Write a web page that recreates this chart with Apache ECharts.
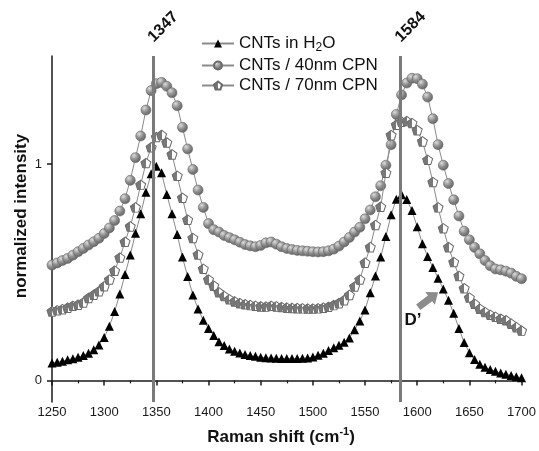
<!DOCTYPE html>
<html><head><meta charset="utf-8">
<script src="https://cdn.jsdelivr.net/npm/echarts@6/dist/echarts.min.js"></script>
<style>html,body{margin:0;padding:0;background:#fff}#c{width:539px;height:451px}</style>
</head><body><div id="c"></div>
<script>
// Raman shift sample positions (cm^-1)
const ramanShift = [
 1250,1255,1260,1265,1270,1275,1280,1285,1290,1295,
 1300,1305,1310,1315,1320,1325,1330,1335,1340,1345,
 1350,1355,1360,1365,1370,1375,1380,1385,1390,1395,
 1400,1405,1410,1415,1420,1425,1430,1435,1440,1445,
 1450,1455,1460,1465,1470,1475,1480,1485,1490,1495,
 1500,1505,1510,1515,1520,1525,1530,1535,1540,1545,
 1550,1555,1560,1565,1570,1575,1580,1585,1590,1595,
 1600,1605,1610,1615,1620,1625,1630,1635,1640,1645,
 1650,1655,1660,1665,1670,1675,1680,1685,1690,1695,
 1700];
const cntsH2O = [
 0.08,0.084,0.089,0.095,0.10,0.107,0.115,0.126,0.142,0.164,
 0.198,0.25,0.318,0.40,0.49,0.58,0.68,0.77,0.87,0.955,
 0.99,0.96,0.86,0.77,0.675,0.57,0.48,0.395,0.33,0.278,
 0.24,0.208,0.179,0.161,0.145,0.135,0.127,0.12,0.115,0.111,
 0.107,0.105,0.103,0.102,0.101,0.101,0.101,0.101,0.102,0.104,
 0.108,0.116,0.126,0.138,0.151,0.162,0.176,0.196,0.234,0.275,
 0.326,0.405,0.483,0.57,0.665,0.766,0.838,0.858,0.836,0.785,
 0.71,0.632,0.573,0.522,0.472,0.423,0.37,0.31,0.24,0.175,
 0.128,0.096,0.075,0.061,0.05,0.042,0.034,0.028,0.022,0.017,
 0.012];
const cnts40nm = [
 0.533,0.543,0.554,0.564,0.579,0.595,0.61,0.626,0.641,0.657,
 0.679,0.705,0.739,0.783,0.84,0.925,1.03,1.13,1.25,1.34,
 1.372,1.378,1.36,1.33,1.27,1.17,1.07,0.975,0.88,0.80,
 0.725,0.697,0.686,0.67,0.66,0.65,0.639,0.628,0.622,0.618,
 0.624,0.636,0.64,0.63,0.618,0.61,0.605,0.601,0.599,0.597,
 0.595,0.594,0.595,0.599,0.607,0.621,0.64,0.661,0.686,0.708,
 0.747,0.788,0.849,0.90,0.995,1.09,1.23,1.32,1.375,1.397,
 1.395,1.37,1.31,1.21,1.09,0.995,0.91,0.835,0.76,0.69,
 0.65,0.615,0.585,0.554,0.53,0.515,0.511,0.505,0.496,0.481,
 0.47];
const cnts70nm = [
 0.319,0.324,0.329,0.336,0.345,0.35,0.36,0.381,0.396,0.412,
 0.435,0.466,0.507,0.568,0.641,0.712,0.80,0.904,1.005,1.078,
 1.125,1.135,1.10,1.045,0.946,0.844,0.743,0.658,0.582,0.516,
 0.466,0.438,0.407,0.39,0.375,0.365,0.357,0.352,0.348,0.345,
 0.342,0.341,0.345,0.342,0.339,0.336,0.335,0.334,0.333,0.332,
 0.332,0.333,0.336,0.34,0.348,0.357,0.371,0.395,0.434,0.466,
 0.544,0.616,0.718,0.803,0.96,1.134,1.182,1.196,1.199,1.19,
 1.157,1.105,1.02,0.917,0.80,0.703,0.616,0.547,0.483,0.426,
 0.383,0.354,0.331,0.316,0.303,0.294,0.285,0.278,0.262,0.246,
 0.23];
const seriesNames = ['CNTs in H2O', 'CNTs / 40nm CPN', 'CNTs / 70nm CPN'];
const peakLines = [1347, 1584];
const yTicks = [0, 1];
const arrowFrom = [1601, 0.338];
const arrowTo = [1620, 0.407];
const bandLabel = 'D\u2019';
const bandLabelAt = [1596, 0.28];

const FONT = '"Liberation Sans", Arial, Helvetica, sans-serif';
const AX = '#1a1a1a';
const chart = echarts.init(document.getElementById('c'), null, {renderer: 'canvas', width: 539, height: 451});
const xy = arr => ramanShift.map((x, i) => [x, arr[i]]);

const sphereFill = {type: 'radial', x: 0.35, y: 0.3, r: 0.75, colorStops: [
  {offset: 0, color: '#dcdcdc'}, {offset: 0.5, color: '#8e8e8e'}, {offset: 1, color: '#5e5e5e'}]};
const halfFill = {type: 'linear', x: 0, y: 0, x2: 1, y2: 0, colorStops: [
  {offset: 0, color: '#787878'}, {offset: 0.5, color: '#787878'}, {offset: 0.5, color: '#ffffff'}, {offset: 1, color: '#ffffff'}]};
const pentagon = 'path://M10,0 L19.51,6.91 L15.88,18.09 L4.12,18.09 L0.49,6.91 Z';

const baseLine = {type: 'line', showAllSymbol: true, animation: false, silent: true,
  lineStyle: {color: '#8a8a8a', width: 1}, emphasis: {disabled: true}};

const option = {
  animation: false,
  backgroundColor: '#fff',
  grid: {left: 52, right: 14, top: 56, bottom: 49},
  xAxis: {
    type: 'value', min: 1250, max: 1700, interval: 50,
    axisLine: {show: true, lineStyle: {color: AX, width: 1.5}},
    axisTick: {show: true, length: 5, lineStyle: {color: AX, width: 1.5}},
    minorTick: {show: true, splitNumber: 2, length: 3, lineStyle: {color: AX, width: 1.2}},
    axisLabel: {margin: 4, fontSize: 13, color: AX, fontFamily: FONT, formatter: v => String(v)},
    splitLine: {show: false}
  },
  yAxis: {
    type: 'value', min: -0.1, max: 1.5,
    axisLine: {show: true, lineStyle: {color: AX, width: 1.5}},
    axisTick: {show: true, customValues: yTicks, length: 5, lineStyle: {color: AX, width: 1.5}},
    axisLabel: {customValues: yTicks, margin: 10, fontSize: 13, color: AX, fontFamily: FONT, formatter: v => String(v)},
    splitLine: {show: false}
  },
  legend: {
    orient: 'vertical', left: 196, top: 30, itemWidth: 32, itemHeight: 10, itemGap: 3,
    data: seriesNames,
    formatter: name => name === seriesNames[0] ? '{n|CNTs in H}{s|2}{n|O}' : '{n|' + name + '}',
    textStyle: {fontFamily: FONT, color: '#111', fontSize: 17,
      rich: {n: {fontFamily: FONT, fontSize: 17, color: '#111', lineHeight: 21},
             s: {fontFamily: FONT, fontSize: 12, color: '#111', verticalAlign: 'bottom'}}}
  },
  series: [
    Object.assign({}, baseLine, {name: seriesNames[0], data: xy(cntsH2O), z: 4,
      symbol: 'triangle', symbolSize: [9, 9], itemStyle: {color: '#000'},
      markLine: {silent: true, symbol: ['none', 'none'], animation: false, z: 6,
        label: {show: false}, lineStyle: {color: '#7a7a7a', width: 3, type: 'solid'},
        emphasis: {disabled: true},
        data: peakLines.map(v => ({xAxis: v}))}}),
    Object.assign({}, baseLine, {name: seriesNames[1], data: xy(cnts40nm), z: 2,
      symbol: 'circle', symbolSize: 10, itemStyle: {color: sphereFill, borderColor: '#6a6a6a', borderWidth: 0.6}}),
    Object.assign({}, baseLine, {name: seriesNames[2], data: xy(cnts70nm), z: 3,
      symbol: pentagon, symbolSize: [10, 9.5], itemStyle: {color: halfFill, borderColor: '#6a6a6a', borderWidth: 1}})
  ]
};
chart.setOption(option);

// annotations placed through the axis scales
const g = [];
peakLines.forEach(v => {
  const p = chart.convertToPixel({gridIndex: 0}, [v, 1.5]);
  g.push({type: 'text', x: p[0] + 10, y: p[1] - 29, rotation: Math.PI / 4, silent: true,
    style: {text: String(v), fontFamily: FONT, fontWeight: 'bold', fontSize: 16, fill: '#111',
      align: 'center', verticalAlign: 'middle'}});
});
const a = chart.convertToPixel({gridIndex: 0}, arrowFrom);
const b = chart.convertToPixel({gridIndex: 0}, arrowTo);
const dx = b[0] - a[0], dy = b[1] - a[1], L = Math.hypot(dx, dy);
const ux = dx / L, uy = dy / L, nx = -uy, ny = ux;
const hw = 3.5, hh = 8, hl = 10;
const bx = b[0] - ux * hl, by = b[1] - uy * hl;
g.push({type: 'polygon', silent: true, shape: {points: [
  [a[0] + nx * hw, a[1] + ny * hw], [bx + nx * hw, by + ny * hw], [bx + nx * hh, by + ny * hh],
  [b[0], b[1]], [bx - nx * hh, by - ny * hh], [bx - nx * hw, by - ny * hw], [a[0] - nx * hw, a[1] - ny * hw]]},
  style: {fill: '#8c8c8c'}});
const t = chart.convertToPixel({gridIndex: 0}, bandLabelAt);
g.push({type: 'text', x: t[0], y: t[1], silent: true,
  style: {text: bandLabel, fontFamily: FONT, fontWeight: 'bold', fontSize: 17, fill: '#111', align: 'center', verticalAlign: 'middle'}});
// axis titles
g.push({type: 'text', x: 281, y: 437, silent: true,
  style: {text: '{n|Raman shift (cm}{p|-1}{n|)}', align: 'center', verticalAlign: 'middle',
    rich: {n: {fontFamily: FONT, fontWeight: 'bold', fontSize: 17, fill: '#111', color: '#111', lineHeight: 22},
           p: {fontFamily: FONT, fontWeight: 'bold', fontSize: 11, fill: '#111', color: '#111', verticalAlign: 'top'}}}});
g.push({type: 'text', x: 21, y: 216, rotation: Math.PI / 2, silent: true,
  style: {text: 'normalized intensity', fontFamily: FONT, fontWeight: 'bold', fontSize: 17, fill: '#111',
    align: 'center', verticalAlign: 'middle'}});
chart.setOption({graphic: g});
</script>
</body></html>
